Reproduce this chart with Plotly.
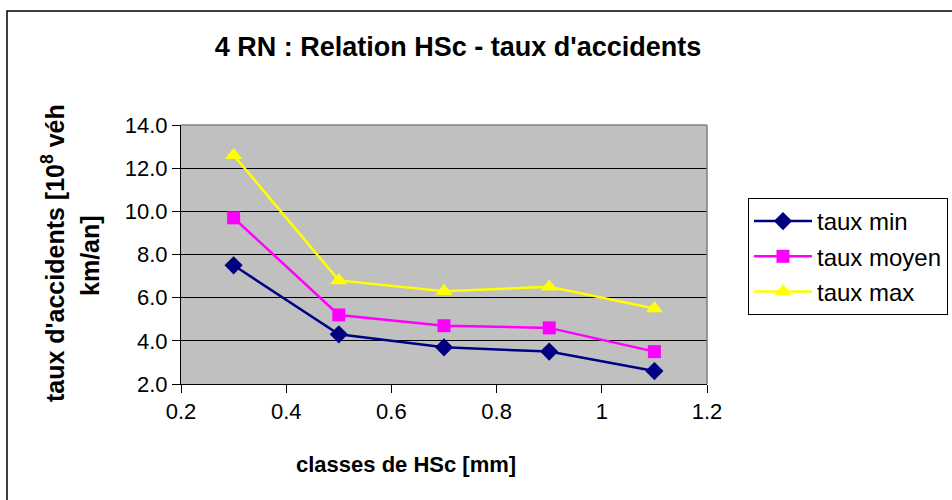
import plotly.graph_objects as go

x_hsc = [0.3, 0.5, 0.7, 0.9, 1.1]
taux_min = [7.5, 4.3, 3.7, 3.5, 2.6]
taux_moyen = [9.7, 5.2, 4.7, 4.6, 3.5]
taux_max = [12.6, 6.8, 6.3, 6.5, 5.5]
series_names = ["taux min", "taux moyen", "taux max"]

FONT = "Liberation Sans, Arial, sans-serif"

fig = go.Figure()
fig.add_trace(go.Scatter(x=x_hsc, y=taux_min, name=series_names[0], mode="lines+markers",
                         legendgroup="a",
                         line=dict(color="#000080", width=2.5),
                         marker=dict(symbol="diamond", size=14, color="#000080")))
fig.add_trace(go.Scatter(x=x_hsc, y=taux_moyen, name=series_names[1], mode="lines+markers",
                         legendgroup="b",
                         line=dict(color="#FF00FF", width=2.5),
                         marker=dict(symbol="square", size=13, color="#FF00FF")))
fig.add_trace(go.Scatter(x=x_hsc, y=taux_max, name=series_names[2], mode="lines+markers",
                         legendgroup="c",
                         line=dict(color="#FFFF00", width=2.5),
                         marker=dict(symbol="triangle-up", size=15, color="#FFFF00")))

L, R, T, B = 181, 952 - 707, 125, 500 - 384
W, H = 952 - L - R, 500 - T - B

def px(xp):
    return (xp - L) / W

def py(yp):
    return (500 - B - yp) / H

fig.update_layout(
    width=952, height=500,
    margin=dict(l=L, r=R, t=T, b=B, autoexpand=False),
    paper_bgcolor="white",
    plot_bgcolor="#C0C0C0",
    font=dict(family=FONT, color="black", size=22),
    title=dict(text="<b>4 RN : Relation HSc - taux d'accidents</b>",
               x=458 / 952, xanchor="center", y=1 - 47 / 500, yanchor="middle",
               font=dict(size=27, family=FONT, color="black")),
    xaxis=dict(range=[0.2, 1.2], dtick=0.2, tick0=0.2, showgrid=False, zeroline=False,
               showline=True, linecolor="black", linewidth=1,
               ticks="outside", ticklen=8, tickcolor="black",
               tickfont=dict(size=22, family=FONT)),
    yaxis=dict(range=[2, 14], dtick=2, tick0=2, tickformat=".1f",
               showgrid=True, gridcolor="black", gridwidth=1, zeroline=False,
               showline=True, linecolor="black", linewidth=1,
               ticks="outside", ticklen=8, tickcolor="black",
               tickfont=dict(size=22, family=FONT)),
    legend=dict(xref="container", yref="container",
                x=748 / 952, y=1 - 198 / 500, xanchor="left", yanchor="top",
                bordercolor="black", borderwidth=1, bgcolor="white",
                font=dict(size=24, family=FONT), tracegroupgap=1,
                itemwidth=58),
    showlegend=True,
)

shapes = [
    dict(type="line", xref="paper", yref="paper", x0=0, x1=1, y0=1, y1=1,
         line=dict(color="#808080", width=1.5)),
    dict(type="line", xref="paper", yref="paper", x0=1, x1=1, y0=0, y1=1,
         line=dict(color="#808080", width=1.5)),
    dict(type="rect", xref="paper", yref="paper", x0=px(7), x1=px(970), y0=py(11), y1=py(520),
         line=dict(color="black", width=1.5), fillcolor="rgba(0,0,0,0)", layer="below"),
]
fig.update_layout(shapes=shapes)

fig.add_annotation(text="<b>classes de HSc [mm]</b>", xref="paper", yref="paper",
                   x=px(406), y=py(464), xanchor="center", yanchor="middle",
                   showarrow=False, font=dict(size=22, family=FONT))
fig.add_annotation(text="<b>taux d'accidents [10<sup>8</sup> véh</b>", xref="paper", yref="paper",
                   x=px(53), y=py(253), xanchor="center", yanchor="middle", textangle=-90,
                   showarrow=False, font=dict(size=25, family=FONT))
fig.add_annotation(text="<b>km/an]</b>", xref="paper", yref="paper",
                   x=px(90), y=py(256), xanchor="center", yanchor="middle", textangle=-90,
                   showarrow=False, font=dict(size=25, family=FONT))

fig.write_html("out.html", config={"displayModeBar": False},
               post_script="document.body.style.margin='0';document.body.style.padding='0';")
